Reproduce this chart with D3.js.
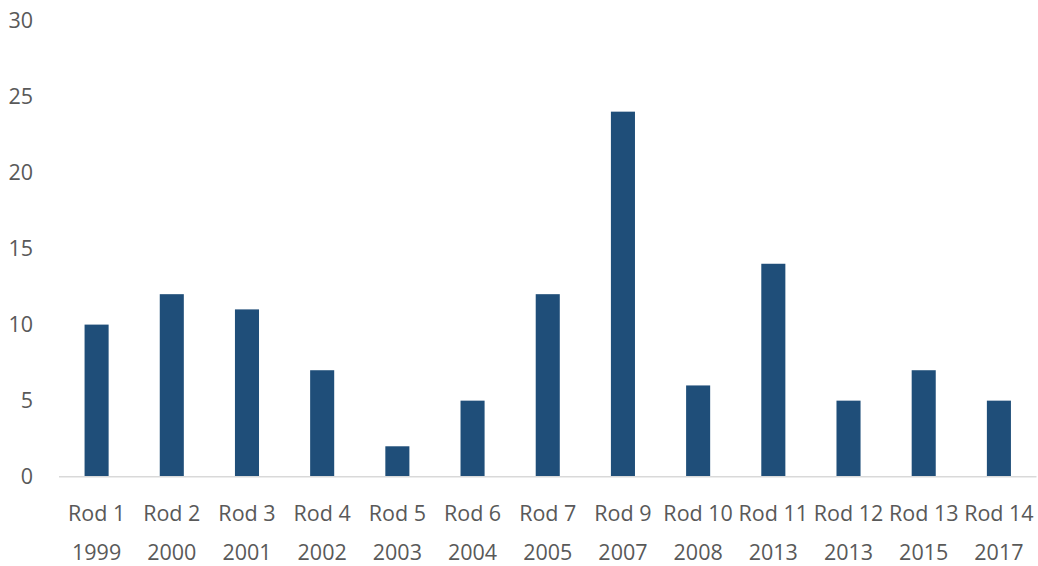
<!DOCTYPE html>
<html><head><meta charset="utf-8">
<script src="https://cdn.jsdelivr.net/npm/d3@7"></script>
<style>body{margin:0;background:#fff}svg{display:block}</style>
</head><body>
<svg id="c" width="1038" height="566"></svg>
<script>
const categories = ["Rod 1","Rod 2","Rod 3","Rod 4","Rod 5","Rod 6","Rod 7","Rod 9","Rod 10","Rod 11","Rod 12","Rod 13","Rod 14"];
const years = ["1999","2000","2001","2002","2003","2004","2005","2007","2008","2013","2013","2015","2017"];
const values = [10,12,11,7,2,5,12,24,6,14,5,7,5];
const yTicks = [0,5,10,15,20,25,30];

const svg = d3.select("#c");
const x = d3.scaleBand().domain(categories).range([59, 1036.5]).paddingInner(0.68).paddingOuter(0.34);
const y = d3.scaleLinear().domain([0,30]).range([476.7, 20.4]);
const font = "'Open Sans', sans-serif";
const fs = 21.5;

const yAxis = svg.append("g").attr("transform","translate(33,0)")
  .call(d3.axisLeft(y).tickValues(yTicks).tickSize(0).tickPadding(0));
yAxis.select(".domain").remove();
yAxis.selectAll("text").attr("font-family",font).attr("font-size",fs).attr("fill","#595959");

svg.append("g").selectAll("rect").data(values).join("rect")
  .attr("x",(d,i)=>x(categories[i])).attr("width",x.bandwidth())
  .attr("y",d=>y(d)).attr("height",d=>y(0)-y(d)).attr("fill","#1F4E79");

svg.append("line").attr("x1",59).attr("x2",1036.5).attr("y1",y(0)).attr("y2",y(0))
  .attr("stroke","#d9d9d9").attr("stroke-width",1.5);

const xAxis = svg.append("g").attr("transform",`translate(0,${y(0)})`)
  .call(d3.axisBottom(x).tickSize(0).tickPadding(0).tickFormat(()=>""));
xAxis.select(".domain").remove();
xAxis.selectAll(".tick").each(function(d,i){
  const t = d3.select(this).select("text").text(null).attr("y",0).attr("dy",null)
    .attr("font-family",font).attr("font-size",fs).attr("fill","#595959");
  t.append("tspan").attr("x",0).attr("y",44).text(d);
  t.append("tspan").attr("x",0).attr("y",83).text(years[i]);
});
</script>
</body></html>
